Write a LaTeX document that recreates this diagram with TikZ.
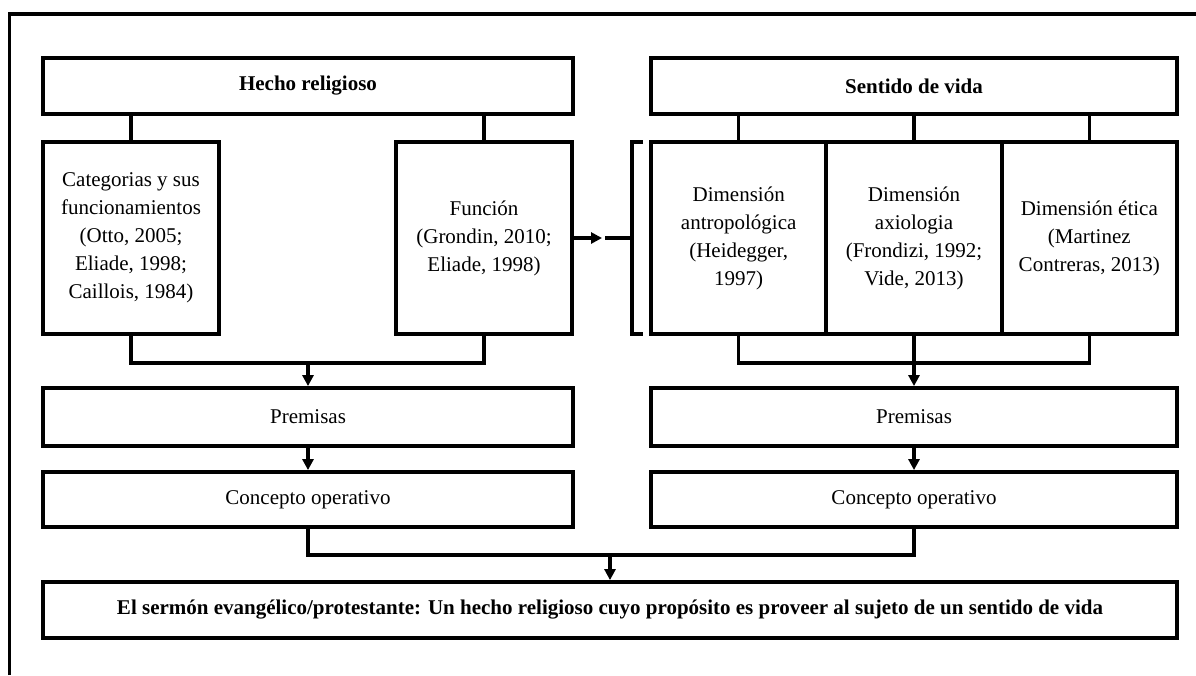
\documentclass[tikz,border=0pt]{standalone}
\usepackage{fontspec}
\setmainfont{Liberation Serif}
\usetikzlibrary{arrows.meta}
\begin{document}
\begin{tikzpicture}[x=1pt,y=-1pt,
  box/.style={draw=black,line width=3.8pt,rectangle,inner sep=0pt,align=center,
    font=\fontsize{21}{28}\selectfont},
  conn/.style={draw=black,line width=3.2pt},
  arr/.style={conn,-{Triangle[length=11pt,width=11pt]}},
  frame/.style={draw=black,line width=3.4pt}]
\useasboundingbox (0,0) rectangle (1196,675);
\draw[frame] (9.5,675) -- (9.5,14) -- (1196,14);
% top boxes
\node[box,minimum width=530,minimum height=56] (hr) at (308,86) {\bfseries Hecho religioso};
\node[box,minimum width=526,minimum height=56] (sv) at (914,86) {\bfseries Sentido de vida};
% second row
\node[box,minimum width=176,minimum height=192] (cat) at (131,238) {Categorias y sus\\funcionamientos\\(Otto, 2005;\\Eliade, 1998;\\Caillois, 1984)};
\node[box,minimum width=176,minimum height=192] (fun) at (484,238) {Función\\(Grondin, 2010;\\Eliade, 1998)};
\node[box,minimum width=175.3,minimum height=192] (d1) at (738.7,238) {Dimensión\\antropológica\\(Heidegger,\\1997)};
\node[box,minimum width=175.3,minimum height=192] (d2) at (914,238) {Dimensión\\axiologia\\(Frondizi, 1992;\\Vide, 2013)};
\node[box,minimum width=175.3,minimum height=192] (d3) at (1089.3,238) {Dimensión ética\\(Martinez\\Contreras, 2013)};
% premisas / concepto
\node[box,minimum width=530,minimum height=58] (p1) at (308,417) {Premisas};
\node[box,minimum width=530,minimum height=55] (c1) at (308,499.5) {Concepto operativo};
\node[box,minimum width=526,minimum height=58] (p2) at (914,417) {Premisas};
\node[box,minimum width=526,minimum height=55] (c2) at (914,499.5) {Concepto operativo};
% final
\node[box,minimum width=1134,minimum height=56] (fin) at (610,610) {\bfseries El sermón evangélico/protestante: Un hecho religioso cuyo propósito es proveer al sujeto de un sentido de vida};
% connectors top
\draw[conn] (hr.south -| cat.north) -- (cat.north);
\draw[conn] (hr.south -| fun.north) -- (fun.north);
\draw[conn] (sv.south -| d1.north) -- (d1.north);
\draw[conn] (sv.south -| d2.north) -- (d2.north);
\draw[conn] (sv.south -| d3.north) -- (d3.north);
% joins
\coordinate (j1) at (308,363);
\coordinate (j2) at (914,363);
\coordinate (j3) at (610,555);
\draw[conn] (cat.south) |- (j1) -| (fun.south);
\draw[arr] (j1) -- (p1.north);
\draw[conn] (d1.south) |- (j2) -| (d3.south);
\draw[conn] (d2.south) -- (j2);
\draw[arr] (j2) -- (p2.north);
\draw[arr] (p1.south) -- (c1.north);
\draw[arr] (p2.south) -- (c2.north);
\draw[conn] (c1.south) |- (j3) -| (c2.south);
\draw[arr] (j3) -- (fin.north);
% arrow to bracket
\coordinate (atip) at (602,238);
\coordinate (lstart) at (605,238);
\coordinate (bk) at (632,238);
\coordinate (bt) at (632,142);
\coordinate (bb) at (632,334);
\draw[arr] (fun.east) -- (atip);
\draw[conn] (lstart) -- (bk);
\draw[conn] (643,142) -- (bt) -- (bb) -- (643,334);
\end{tikzpicture}
\end{document}
